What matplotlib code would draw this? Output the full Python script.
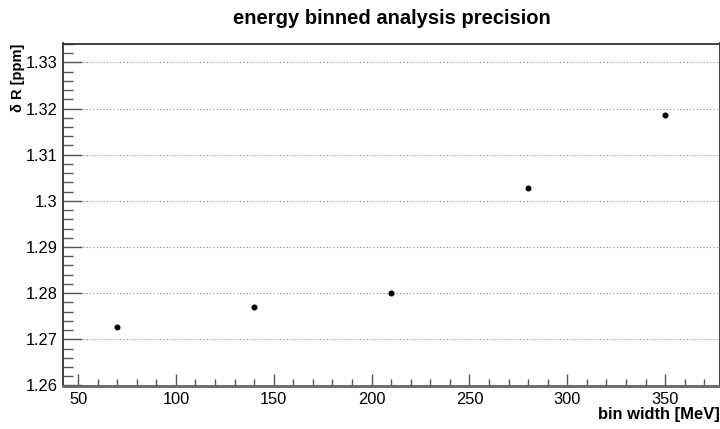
import matplotlib.pyplot as plt
from matplotlib.ticker import MultipleLocator

# data
bin_width = [70, 140, 210, 280, 350]
delta_r = [1.2727, 1.2769, 1.2800, 1.3027, 1.3187]

plt.rcParams['font.family'] = ['Liberation Sans', 'DejaVu Sans']

fig = plt.figure(figsize=(7.2, 4.29), dpi=100)
ax = fig.add_axes([63 / 720, 1 - 385.5 / 429, 1 - 63 / 720, (385.5 - 43.5) / 429])

ax.plot(bin_width, delta_r, 'o', color='black', markersize=3.3, zorder=3)

ax.set_xlim(42.3, 378)
ax.set_ylim(1.26, 1.3341)

ax.xaxis.set_major_locator(MultipleLocator(50))
ax.xaxis.set_minor_locator(MultipleLocator(10))
ax.yaxis.set_major_locator(MultipleLocator(0.01))
ax.yaxis.set_minor_locator(MultipleLocator(0.002))
ax.yaxis.set_major_formatter(plt.FuncFormatter(lambda v, p: f'{v:.2f}'.rstrip('0').rstrip('.') if abs(v - 1.3) < 1e-9 else f'{v:.2f}'))

ax.tick_params(which='both', direction='in', color='#555555', labelsize=11.8)
ax.tick_params(axis='y', which='major', length=14, width=1, pad=4)
ax.tick_params(axis='y', which='minor', length=7, width=1)
ax.tick_params(axis='x', which='major', length=9, width=1, pad=5)
ax.tick_params(axis='x', which='minor', length=5, width=1)

ax.yaxis.grid(True, which='major', linestyle=(0, (1, 2)), color='#888888', linewidth=0.8)
ax.set_axisbelow(True)

for s in ax.spines.values():
    s.set_color('#333333')
    s.set_linewidth(1.3)
ax.spines['bottom'].set_color('#666666')
ax.spines['bottom'].set_linewidth(2)

ax.set_title('energy binned analysis precision', fontsize=14.5, fontweight='bold', pad=14)
ax.set_xlabel('bin width [MeV]', fontsize=11.9, fontweight='bold', loc='right', labelpad=0)
ax.set_ylabel('δ R [ppm]', fontsize=10.5, fontweight='bold', loc='top', labelpad=0)

fig.savefig('out.png', dpi=100)
